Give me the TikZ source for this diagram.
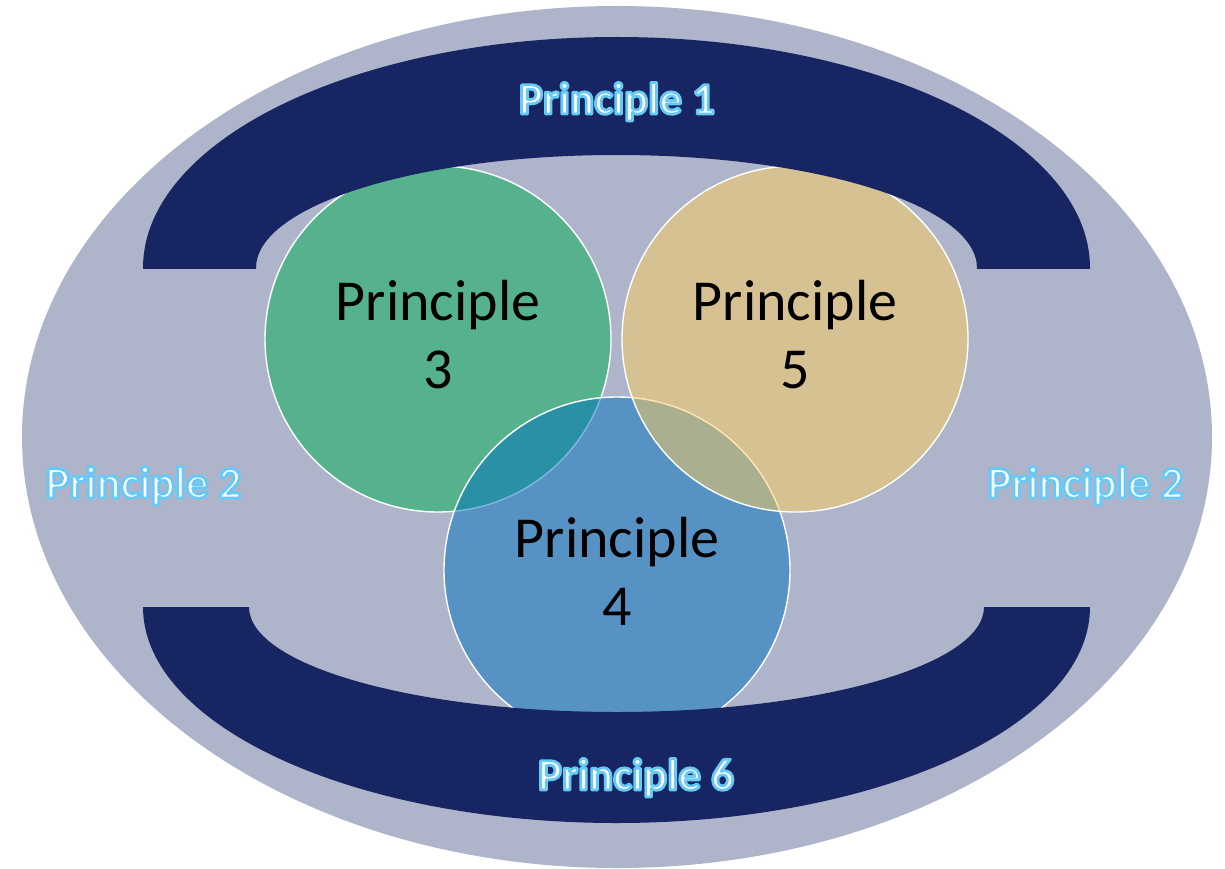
\documentclass[tikz,border=0pt]{standalone}
\usepackage{fontspec}
\setmainfont{Carlito}
\usetikzlibrary{shapes.geometric}

\definecolor{plate}{RGB}{174,181,202}
\definecolor{navy}{RGB}{23,38,98}
\definecolor{leaf}{RGB}{86,178,140}
\definecolor{ocean}{RGB}{0,112,192}
\definecolor{sand}{RGB}{255,205,94}

% white lettering stroked with a light blue outline (PDF text render mode 2)
\newcommand\halotext[1]{%
  \textcolor{white}{%
    \special{pdf:literal direct 0.40 0.79 0.97 RG 1 j 2.8 w 2 Tr}%
    #1%
    \special{pdf:literal direct 0 Tr}}}

\begin{document}
\begin{tikzpicture}[x=1pt,y=-1pt,
  disc/.style={circle, minimum size=346pt, inner sep=0pt, draw=white, line width=1.4pt},
  inlabel/.style={font=\fontsize{58}{68}\selectfont, align=center, text=black, inner sep=0pt, anchor=base},
  halolabel/.style={font=\fontsize{45}{50}\selectfont\bfseries, inner sep=0pt, anchor=base}]
\useasboundingbox (0,0) rectangle (1225,869);
\fill[white] (0,0) rectangle (1225,869);

% outer plate
\node[ellipse, minimum width=1190pt, minimum height=862pt, inner sep=0pt, fill=plate] (plate) at (617,437) {};

% overlapping discs
\node[disc, fill=leaf] (c3) at (438,339) {};
\node[disc, fill=ocean, fill opacity=0.5] (c4) at (617,570) {};
\node[disc, fill=sand, fill opacity=0.5] (c5) at (795,339) {};

% upper arch
\begin{scope}
  \clip (0,0) rectangle (1225,268);
  \fill[navy, even odd rule] (616.5,268) ellipse [x radius=473.5, y radius=231]
                             (616.5,268) ellipse [x radius=360.5, y radius=113];
\end{scope}
% lower arch
\begin{scope}
  \clip (0,607) rectangle (1225,869);
  \fill[navy, even odd rule] (616.5,607) ellipse [x radius=473.5, y radius=216]
                             (616.5,607) ellipse [x radius=367.5, y radius=105];
\end{scope}

% disc labels (base anchor sits on the last line)
\node[inlabel] (t3) at (438,388) {Principle\\3};
\node[inlabel] (t5) at (795,388) {Principle\\5};
\node[inlabel] (t4) at (617,625) {Principle\\4};

% outlined labels
\node[halolabel] (p1) at (617,114) {\halotext{Principle 1}};
\node[halolabel] (p2l) at (143.5,498) {\halotext{Principle 2}};
\node[halolabel] (p2r) at (1085.5,498) {\halotext{Principle 2}};
\node[halolabel] (p6) at (636,790) {\halotext{Principle 6}};
\end{tikzpicture}
\end{document}
